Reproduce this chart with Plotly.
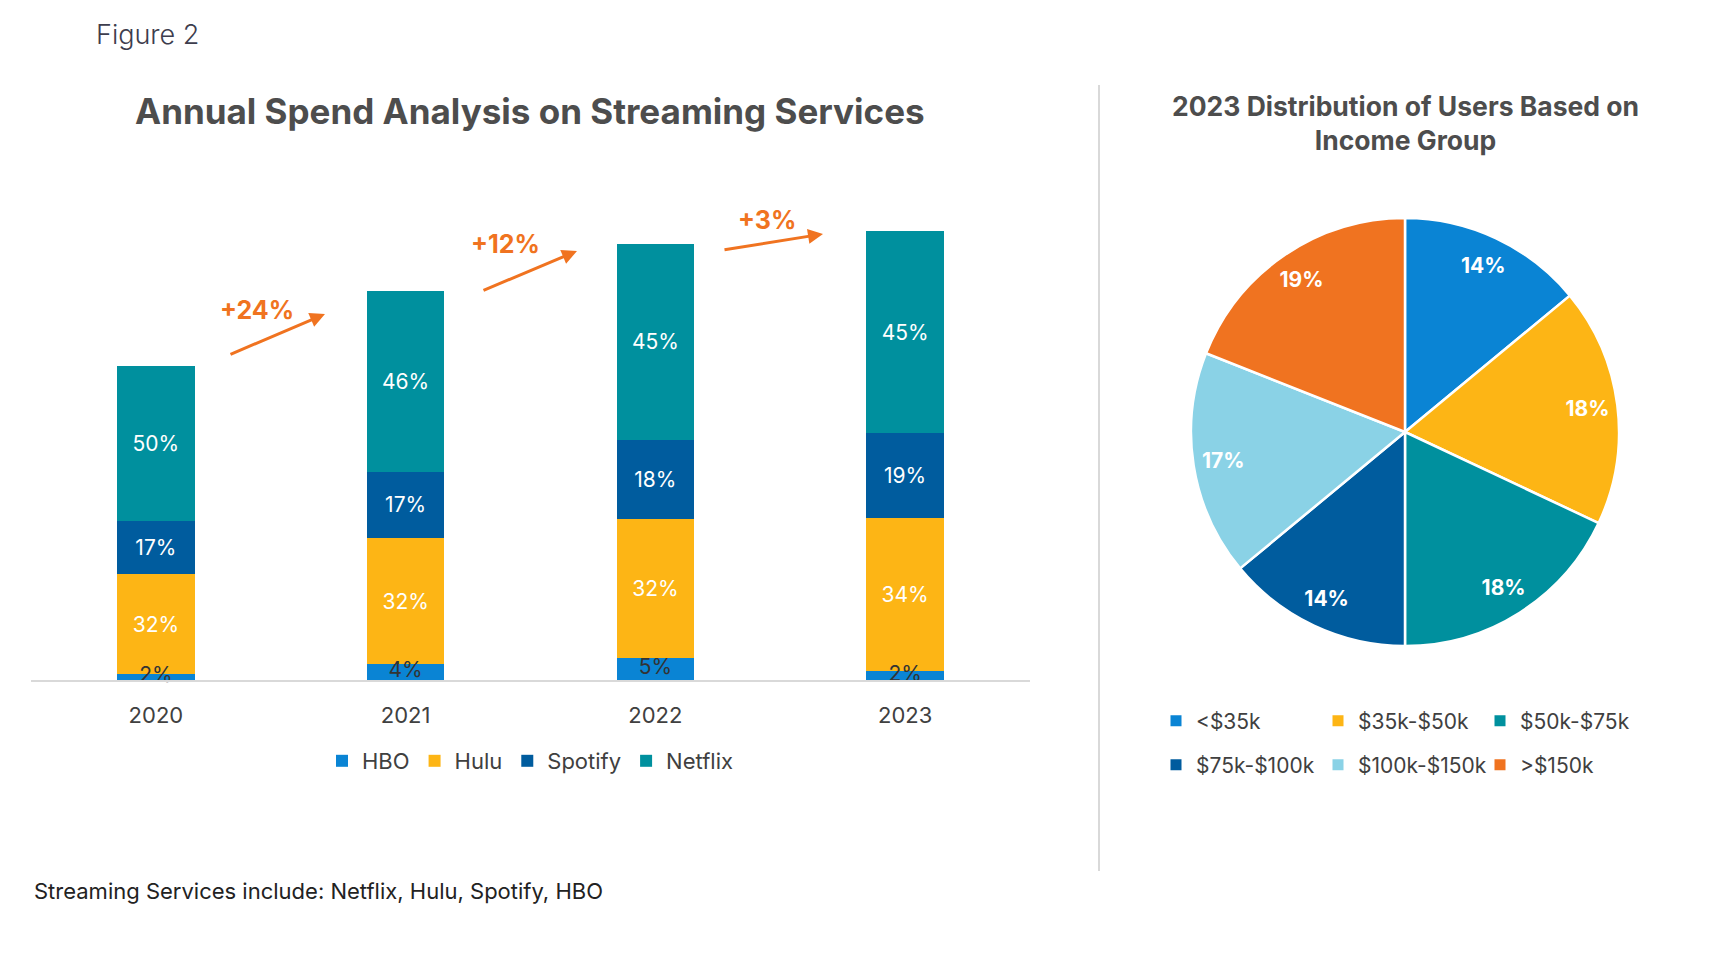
import plotly.graph_objects as go

# ---------------- data ----------------
years = ["2020", "2021", "2022", "2023"]
total_spend_index = [100, 124, 139, 143]          # relative annual spend (2020 = 100)
hbo_pct = [2, 4, 5, 2]
hulu_pct = [32, 32, 32, 34]
spotify_pct = [17, 17, 18, 19]
netflix_pct = [50, 46, 45, 45]
growth_labels = ["+24%", "+12%", "+3%"]

income_groups = ["<$35k", "$35k-$50k", "$50k-$75k", "$75k-$100k", "$100k-$150k", ">$150k"]
income_share = [14, 18, 18, 14, 17, 19]

# ---------------- style ----------------
W, H = 1718, 964
FONT = "Inter"
TXT = "#404040"
C_HBO, C_HULU, C_SPOT, C_NFLX = "#0A84D4", "#FDB515", "#005C9E", "#00909E"
C_ORANGE = "#F07320"
pie_colors = ["#0A84D4", "#FDB515", "#00909E", "#005C9E", "#8AD2E6", "#F07320"]

services = [("HBO", hbo_pct, C_HBO),
            ("Hulu", hulu_pct, C_HULU),
            ("Spotify", spotify_pct, C_SPOT),
            ("Netflix", netflix_pct, C_NFLX)]

all_pcts = [hbo_pct, hulu_pct, spotify_pct, netflix_pct]
sums = [sum(p[i] for p in all_pcts) for i in range(len(years))]

fig = go.Figure()
seg = {}
for name, pct, color in services:
    heights = [total_spend_index[i] * pct[i] / sums[i] for i in range(len(years))]
    seg[name] = heights
    inside = name != "HBO"
    fig.add_trace(go.Bar(
        x=years, y=heights, name=name, marker=dict(color=color, line=dict(width=0)),
        text=[f"{p}%" for p in pct] if inside else None,
        textposition="inside" if inside else "none", insidetextanchor="middle",
        textangle=0, constraintext="none", cliponaxis=False,
        textfont=dict(family=FONT, size=21, color="white"),
        hoverinfo="skip", legend="legend",
    ))

# HBO labels drawn on top of the stack (dark text)
fig.add_trace(go.Scatter(
    x=years, y=[h / 2 for h in seg["HBO"]], mode="text", text=[f"{p}%" for p in hbo_pct],
    textposition="middle center", textfont=dict(family=FONT, size=21, color="#333333"),
    cliponaxis=False, showlegend=False, hoverinfo="skip",
))

pie_domain = dict(x=[(1405 - 214) / W, (1405 + 214) / W], y=[1 - (432 + 214) / H, 1 - (432 - 214) / H])
fig.add_trace(go.Pie(
    labels=income_groups, values=income_share, sort=False, direction="clockwise",
    marker=dict(colors=pie_colors, line=dict(color="white", width=2.5)),
    textinfo="none", domain=pie_domain, showlegend=False, hoverinfo="skip",
))
# transparent ring carrying the labels near the rim
fig.add_trace(go.Pie(
    labels=income_groups, values=income_share, sort=False, direction="clockwise", hole=0.72,
    marker=dict(colors=["rgba(0,0,0,0)"] * len(income_groups), line=dict(width=0)),
    texttemplate="%{value}%", textposition="inside", insidetextorientation="horizontal",
    textfont=dict(family=FONT, size=21, color="white", weight="bold"),
    domain=pie_domain, showlegend=False, hoverinfo="skip",
))

# legend entries for income groups (two rows of three)
for i, (lab, col) in enumerate(zip(income_groups, pie_colors)):
    fig.add_trace(go.Scatter(
        x=[None], y=[None], mode="markers", name=lab,
        marker=dict(symbol="square", size=11, color=col),
        legend="legend2" if i < 3 else "legend3", hoverinfo="skip",
    ))

# pixel helpers for layout
base_px, top_px = 680, 180
px_per_unit = 3.14
ymax = (base_px - top_px) / px_per_unit
x0_px, x1_px = 31, 1030
cat_w = (x1_px - x0_px) / len(years)

def dx(px):
    return (px - x0_px) / cat_w - 0.5

def dy(py):
    return (base_px - py) / px_per_unit

annotations = [
    dict(text="Figure 2", xref="paper", yref="paper", x=94 / W, y=1 - 35 / H, xanchor="left", yanchor="middle",
         showarrow=False, font=dict(family=FONT, size=27, color="#3d3d4d", weight=300)),
    dict(text="Annual Spend Analysis on Streaming Services", xref="paper", yref="paper", x=530 / W, y=1 - 111 / H,
         xanchor="center", yanchor="middle", showarrow=False,
         font=dict(family=FONT, size=35, color="#4d4d4d", weight="bold")),
    dict(text="2023 Distribution of Users Based on<br>Income Group", xref="paper", yref="paper", x=1405 / W,
         y=1 - 123 / H, xanchor="center", yanchor="middle", showarrow=False,
         font=dict(family=FONT, size=26.5, color="#4d4d4d", weight="bold")),
    dict(text="Streaming Services include: Netflix, Hulu, Spotify, HBO", xref="paper", yref="paper", x=32 / W,
         y=1 - 891 / H, xanchor="left", yanchor="middle", showarrow=False,
         font=dict(family=FONT, size=22, color="#222222")),
]

arrows = [((229, 355), (325, 314), (257, 310)),
          ((482, 291), (577, 251), (505, 244)),
          ((723, 250), (823, 234), (767, 220))]
for (t, h, l), lab in zip(arrows, growth_labels):
    annotations.append(dict(x=dx(h[0]), y=dy(h[1]), ax=dx(t[0]), ay=dy(t[1]), xref="x", yref="y",
                            axref="x", ayref="y", text="", showarrow=True, arrowhead=2, arrowsize=1,
                            arrowwidth=3, arrowcolor=C_ORANGE))
    annotations.append(dict(x=dx(l[0]), y=dy(l[1]), xref="x", yref="y", text=lab, showarrow=False,
                            font=dict(family=FONT, size=25, color=C_ORANGE, weight="bold")))

leg_font = dict(family=FONT, size=22, color=TXT)
pie_leg_font = dict(family=FONT, size=21, color=TXT)
fig.update_layout(
    width=W, height=H, margin=dict(l=0, r=0, t=0, b=0),
    paper_bgcolor="white", plot_bgcolor="white",
    font=dict(family=FONT, color=TXT),
    barmode="stack", bargap=0.69,
    xaxis=dict(domain=[x0_px / W, x1_px / W], type="category", showline=True, linecolor="#d9d9d9",
               linewidth=2, ticks="", showgrid=False, tickfont=dict(family=FONT, size=22, color=TXT),
               ticklabelstandoff=15, fixedrange=True),
    yaxis=dict(domain=[1 - base_px / H, 1 - top_px / H], range=[0, ymax], visible=False,
               showgrid=False, zeroline=False, fixedrange=True),
    legend=dict(orientation="h", x=530 / W, xanchor="center", y=1 - 761 / H, yanchor="middle",
                traceorder="normal", font=leg_font, bgcolor="rgba(0,0,0,0)"),
    legend2=dict(orientation="h", x=1156 / W, xanchor="left", y=1 - 721 / H, yanchor="middle",
                 font=pie_leg_font, entrywidth=117, entrywidthmode="pixels", bgcolor="rgba(0,0,0,0)"),
    legend3=dict(orientation="h", x=1156 / W, xanchor="left", y=1 - 765 / H, yanchor="middle",
                 font=pie_leg_font, entrywidth=117, entrywidthmode="pixels", bgcolor="rgba(0,0,0,0)"),
    shapes=[dict(type="line", xref="paper", yref="paper", x0=1099 / W, x1=1099 / W, y0=1 - 85 / H,
                 y1=1 - 871 / H, line=dict(color="#d9d9d9", width=2))],
    annotations=annotations,
)

fig.write_html("out.html")
